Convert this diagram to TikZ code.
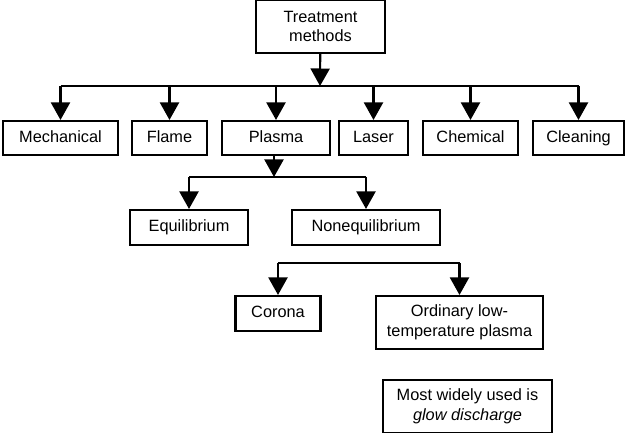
\documentclass[tikz,border=0pt]{standalone}
\usepackage{fontspec}
\setmainfont{Liberation Sans}
\usetikzlibrary{arrows.meta}

\begin{document}
\begin{tikzpicture}[x=0.6pt, y=-0.6pt, line width=1.25pt,
        >={Triangle[width=11.4pt,length=10.5pt]},
        box/.style={draw, rectangle, inner sep=0pt, align=center,
            minimum height=20.4pt, font=\fontsize{9.8}{11.8}\selectfont},
        line/.style={box, text height=7.2pt, text depth=2.1pt}]
        \useasboundingbox (0,0) rectangle (626,433);

        % Root
        \node[box, minimum width=77.4pt, minimum height=31.8pt] (root) at (320.5,26.5) {Treatment\\methods};

        % Methods
        \node[line, minimum width=69pt] (mech) at (60.5,138) {Mechanical};
        \node[line, minimum width=45pt] (flame) at (169.5,138) {Flame};
        \node[line, minimum width=64.8pt] (plasma) at (276,138) {Plasma};
        \node[line, minimum width=41.4pt] (laser) at (373.5,138) {Laser};
        \node[line, minimum width=57pt] (chem) at (470.5,138) {Chemical};
        \node[line, minimum width=54.6pt] (clean) at (578.5,138) {Cleaning};

        \coordinate (bus1) at (320,86);
        \draw[->] (root) -- (bus1);
        \draw (mech.north |- bus1) -- (clean.north |- bus1);
        \foreach \m in {mech,flame,plasma,laser,chem,clean}
            \draw[->] (\m.north |- bus1) -- (\m.north);

        % Plasma types
        \node[line, minimum width=70.8pt, minimum height=21pt] (equi) at (189,227.5) {Equilibrium};
        \node[line, minimum width=88.8pt, minimum height=21pt] (noneq) at (366,227.5) {Nonequilibrium};

        \coordinate (bus2) at (274,177);
        \draw[->] (plasma.south -| bus2) -- (bus2);
        \draw (equi.north |- bus2) -- (noneq.north |- bus2);
        \draw[->] (equi.north |- bus2) -- (equi.north);
        \draw[->] (noneq.north |- bus2) -- (noneq.north);

        % Nonequilibrium types
        \node[line, minimum width=51pt, minimum height=21pt] (corona) at (278,313.5) {Corona};
        \node[box, minimum width=100.2pt, minimum height=31.8pt] (lowtemp) at (459.5,322.5) {Ordinary low-\\temperature plasma};

        \coordinate (bus3) at (280,263);
        \draw (corona.north |- bus3) -- (lowtemp.north |- bus3);
        \draw[->] (corona.north |- bus3) -- (corona.north);
        \draw[->] (lowtemp.north |- bus3) -- (lowtemp.north);

        % Note
        \node[box, minimum width=101.4pt, minimum height=31.8pt] (glow) at (467.5,406.5) {Most widely used is\\\textit{glow discharge}};
    \end{tikzpicture}
\end{document}
